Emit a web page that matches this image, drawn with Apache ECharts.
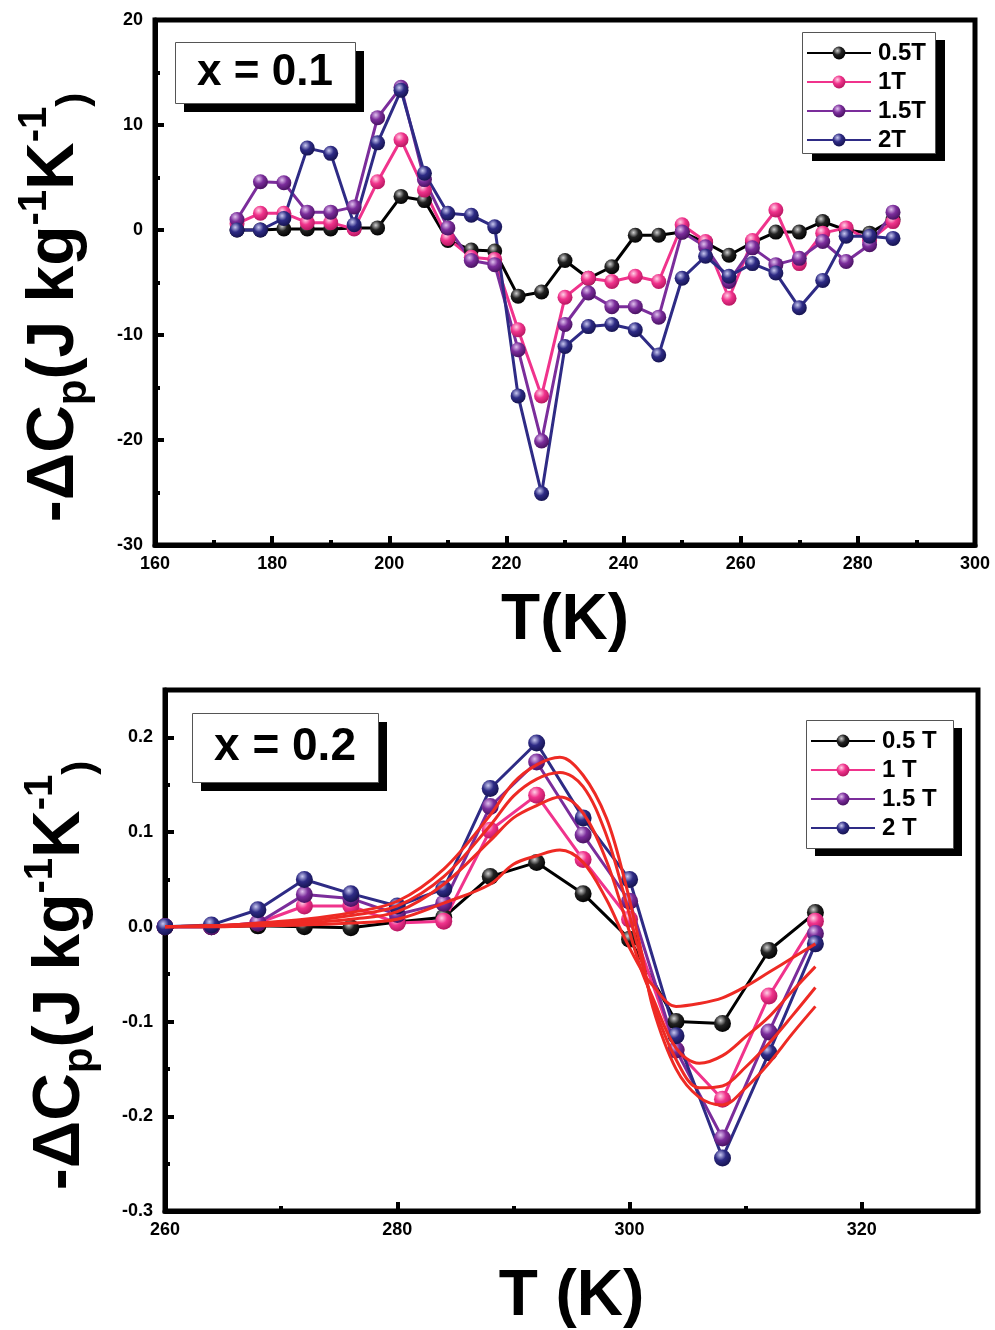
<!DOCTYPE html>
<html>
<head>
<meta charset="utf-8">
<script src="https://cdn.jsdelivr.net/npm/echarts@6/dist/echarts.min.js"></script>
<style>
  html, body { margin: 0; background: #fff; }
  #chart { width: 995px; height: 1330px; }
</style>
</head>
<body>
<div id="chart"></div>
<script>
// x = 0.1 panel
const tempTop = [174, 178, 182, 186, 190, 194, 198, 202, 206, 210, 214, 218, 222, 226, 230,
  234, 238, 242, 246, 250, 254, 258, 262, 266, 270, 274, 278, 282, 286]
const top05 = [0, 0, 0.1, 0.1, 0.1, 0.2, 0.2, 3.2, 2.8, -1.0, -1.9, -2.0, -6.3, -5.9, -2.9,
  -4.6, -3.5, -0.5, -0.5, -0.2, -1.2, -2.4, -1.2, -0.2, -0.2, 0.8, 0.0, -0.3, 1.0]
const top1 = [0.6, 1.6, 1.6, 0.7, 0.7, 0.1, 4.6, 8.6, 3.8, -0.8, -2.6, -2.8, -9.5, -15.8, -6.4,
  -4.6, -4.9, -4.4, -4.9, 0.5, -1.1, -6.5, -1.0, 1.9, -3.2, -0.3, 0.2, -1.0, 0.8]
const top15 = [1.0, 4.6, 4.5, 1.7, 1.7, 2.2, 10.7, 13.6, 4.8, 0.2, -2.9, -3.3, -11.4, -20.1, -9.0,
  -6.0, -7.3, -7.3, -8.3, -0.2, -1.6, -4.9, -1.7, -3.3, -2.7, -1.1, -3.0, -1.4, 1.7]
const top2 = [0, 0, 1.1, 7.8, 7.3, 0.5, 8.3, 13.3, 5.4, 1.6, 1.4, 0.3, -15.8, -25.1, -11.1,
  -9.2, -9.0, -9.5, -11.9, -4.6, -2.5, -4.4, -3.2, -4.1, -7.4, -4.8, -0.6, -0.6, -0.8]

// x = 0.2 panel
const tempBot = [260, 264, 268, 272, 276, 280, 284, 288, 292, 296, 300, 304, 308, 312, 316]
const bot05 = [0, 0, 0.001, 0.0, -0.001, 0.005, 0.01, 0.053, 0.068, 0.035, -0.013, -0.1, -0.102, -0.025, 0.015]
const bot1 = [0, 0, 0.004, 0.022, 0.022, 0.004, 0.006, 0.102, 0.139, 0.071, 0.008, -0.13, -0.182, -0.073, 0.006]
const bot15 = [0, 0, 0.004, 0.034, 0.03, 0.013, 0.025, 0.127, 0.174, 0.097, 0.027, -0.13, -0.223, -0.111, -0.007]
const bot2 = [0, 0.002, 0.018, 0.05, 0.035, 0.022, 0.04, 0.146, 0.194, 0.115, 0.05, -0.115, -0.244, -0.133, -0.018]

// red fitted curves
const tempFit = [260, 264, 268, 272, 276, 280, 284, 288, 290, 292, 294, 296, 298, 299.5, 301,
  302, 304, 306, 308, 310, 312, 314, 316]
const fit05 = [0, 0, 0.001, 0.002, 0.004, 0.008, 0.025, 0.045, 0.066, 0.075, 0.081, 0.068, 0.029, -0.01, -0.045,
  -0.062, -0.084, -0.081, -0.075, -0.063, -0.048, -0.033, -0.018]
const fit1 = [0, 0.001, 0.002, 0.004, 0.008, 0.016, 0.045, 0.091, 0.115, 0.128, 0.137, 0.12, 0.07, 0.014, -0.045,
  -0.075, -0.128, -0.144, -0.136, -0.116, -0.095, -0.068, -0.042]
const fit15 = [0, 0.001, 0.003, 0.006, 0.012, 0.022, 0.053, 0.107, 0.138, 0.156, 0.163, 0.148, 0.097, 0.035, -0.035,
  -0.08, -0.14, -0.17, -0.168, -0.148, -0.123, -0.094, -0.064]
const fit2 = [0, 0.001, 0.004, 0.008, 0.015, 0.027, 0.061, 0.118, 0.152, 0.171, 0.179, 0.16, 0.115, 0.053, -0.025,
  -0.085, -0.15, -0.18, -0.188, -0.17, -0.144, -0.113, -0.084]

const namesTop = ['0.5T', '1T', '1.5T', '2T']
const namesBot = ['0.5 T', '1 T', '1.5 T', '2 T']

const FONT = 'Liberation Sans, Arial, sans-serif'
const chart = echarts.init(document.getElementById('chart'))

// line colour + 3d ball colours
const palette = [
  { line: '#000000', light: '#d0d0d0', mid: '#222222', dark: '#000000' },
  { line: '#f0338c', light: '#ffd0e6', mid: '#f0338c', dark: '#b3155e' },
  { line: '#7b2d9b', light: '#e0c0ee', mid: '#7b2d9b', dark: '#45105e' },
  { line: '#2e2b85', light: '#c8c8f0', mid: '#2e2b85', dark: '#14124d' }
]

function ball(p) {
  return {
    type: 'radial', x: 0.38, y: 0.32, r: 0.72,
    colorStops: [
      { offset: 0, color: p.light },
      { offset: 0.45, color: p.mid },
      { offset: 1, color: p.dark }
    ]
  }
}

function pairs(xs, ys) {
  return xs.map(function(x, i) { return [x, ys[i]] })
}

function dataSeries(name, xs, ys, idx, gridIdx, size) {
  const p = palette[idx]
  return {
    name: name,
    type: 'line',
    xAxisIndex: gridIdx,
    yAxisIndex: gridIdx,
    data: pairs(xs, ys),
    symbol: 'circle',
    symbolSize: size,
    showAllSymbol: true,
    lineStyle: { color: p.line, width: 3 },
    itemStyle: { color: ball(p), borderWidth: 0 },
    emphasis: { disabled: true }
  }
}

function fitSeries(ys) {
  return {
    type: 'line',
    xAxisIndex: 1,
    yAxisIndex: 1,
    data: pairs(tempFit, ys),
    smooth: 0.35,
    symbol: 'none',
    silent: true,
    lineStyle: { color: '#ee2a24', width: 3 },
    z: 5
  }
}

const yName = '{t|-ΔC}{s|p}{t|(J kg}{u|-1}{t|K}{u|-1}{s|)}'
const yRich = {
  t: { fontSize: 66, fontWeight: 'bold', fontFamily: FONT, color: '#000', lineHeight: 80, verticalAlign: 'middle' },
  s: { fontSize: 42, fontWeight: 'bold', fontFamily: FONT, color: '#000', lineHeight: 80, verticalAlign: 'bottom' },
  u: { fontSize: 40, fontWeight: 'bold', fontFamily: FONT, color: '#000', lineHeight: 80, verticalAlign: 'top' }
}

function xAxisCfg(gridIdx, min, max, name, gap) {
  return {
    type: 'value',
    gridIndex: gridIdx,
    min: min, max: max, interval: 20,
    name: name,
    nameLocation: 'middle',
    nameGap: gap,
    nameTextStyle: { fontSize: 64, fontWeight: 'bold', fontFamily: FONT, color: '#000' },
    axisLine: { onZero: false, lineStyle: { color: '#000', width: 5 } },
    axisTick: { inside: true, length: 9, lineStyle: { width: 4, color: '#000' } },
    minorTick: { show: true, splitNumber: 2, length: 5, lineStyle: { width: 4, color: '#000' } },
    axisLabel: { fontSize: 18, fontWeight: 'bold', fontFamily: FONT, color: '#000', margin: 10, showMaxLabel: max % 20 === 0 },
    splitLine: { show: false }
  }
}

function yAxisCfg(gridIdx, min, max, interval, gap, shift, fmt) {
  return {
    type: 'value',
    gridIndex: gridIdx,
    min: min, max: max, interval: interval,
    name: yName,
    nameLocation: 'middle',
    nameRotate: 90,
    nameGap: gap,
    nameTextStyle: { rich: yRich, padding: [0, shift, 0, 0] },
    axisLine: { onZero: false, lineStyle: { color: '#000', width: 5 } },
    axisTick: { inside: true, length: 9, lineStyle: { width: 4, color: '#000' } },
    minorTick: { show: true, splitNumber: 2, length: 5, lineStyle: { width: 4, color: '#000' } },
    axisLabel: { fontSize: 18, fontWeight: 'bold', fontFamily: FONT, color: '#000', margin: 12, formatter: fmt, showMaxLabel: (max / interval) % 1 === 0 },
    splitLine: { show: false }
  }
}

function legendCfg(names, left, top) {
  return {
    orient: 'vertical',
    left: left, top: top,
    data: names,
    itemWidth: 64, itemHeight: 16, itemGap: 5,
    padding: 0,
    textStyle: { fontSize: 24, fontWeight: 'bold', fontFamily: FONT, color: '#000', lineHeight: 24, padding: [0, 0, 0, 2] },
    selectedMode: false
  }
}

// white box with a solid black drop shadow
function shadowBox(x, y, w, h, dx, dy) {
  return [
    { type: 'rect', left: x + dx, top: y + dy, z: 0, silent: true, shape: { width: w, height: h }, style: { fill: '#000' } },
    { type: 'rect', left: x, top: y, z: 1, silent: true, shape: { width: w, height: h }, style: { fill: '#fff', stroke: '#555', lineWidth: 1 } }
  ]
}

function boxText(x, y, w, h, text, size) {
  return {
    type: 'text', z: 2, silent: true,
    x: x + w / 2, y: y + h / 2,
    style: { text: text, fontSize: size, fontWeight: 'bold', fontFamily: FONT, fill: '#000', align: 'center', verticalAlign: 'middle' }
  }
}

const series = []
const topYs = [top05, top1, top15, top2]
const botYs = [bot05, bot1, bot15, bot2]
for (let i = 0; i < 4; i++) series.push(dataSeries(namesTop[i], tempTop, topYs[i], i, 0, 15))
for (let i = 0; i < 4; i++) series.push(dataSeries(namesBot[i], tempBot, botYs[i], i, 1, 17))
;[fit05, fit1, fit15, fit2].forEach(function(f) { series.push(fitSeries(f)) })

const graphics = []
  .concat(shadowBox(175, 42, 180, 61, 9, 9), [boxText(175, 42, 180, 61, 'x = 0.1', 44)])
  .concat(shadowBox(192, 713, 186, 69, 9, 9), [boxText(192, 713, 186, 69, 'x = 0.2', 46)])
  .concat(shadowBox(802, 32, 133, 121, 10, 8))
  .concat(shadowBox(806, 720, 147, 128, 9, 8))

chart.setOption({
  backgroundColor: '#fff',
  animation: false,
  grid: [
    { left: 155, top: 20, width: 820, height: 525, show: true, borderColor: '#000', borderWidth: 5, backgroundColor: 'transparent' },
    { left: 165, top: 690, width: 813, height: 530, show: true, borderColor: '#000', borderWidth: 5, backgroundColor: 'transparent' }
  ],
  xAxis: [
    xAxisCfg(0, 160, 300, 'T(K)', 44),
    xAxisCfg(1, 260, 330, 'T (K)', 54)
  ],
  yAxis: [
    yAxisCfg(0, -30, 20, 10, 60, 50, function(v) { return String(Math.round(v)) }),
    yAxisCfg(1, -0.3, 0.25, 0.1, 64, 50, function(v) { return v.toFixed(1) })
  ],
  legend: [
    legendCfg(namesTop, 806, 41),
    legendCfg(namesBot, 810, 729)
  ],
  graphic: graphics,
  series: series
})
</script>
</body>
</html>
